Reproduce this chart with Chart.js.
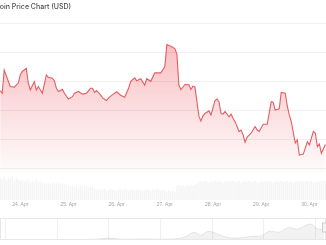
<!DOCTYPE html>
<html>
<head>
<meta charset="utf-8">
<script src="https://cdn.jsdelivr.net/npm/chart.js@4.4.1/dist/chart.umd.min.js"></script>
<style>
  html, body { margin: 0; padding: 0; background: #fff; overflow: hidden; }
  body { width: 326px; height: 245px; position: relative; }
  #title { position: absolute; top: 2px; left: 0; font: 500 7px Inter, sans-serif; line-height: 9px; color: #4d4d4d; white-space: nowrap; }
  #main { position: absolute; left: 0; top: 0; }
  #nav { position: absolute; left: 0; top: 216px; }
</style>
</head>
<body>
<canvas id="main" width="326" height="210"></canvas>
<canvas id="nav" width="326" height="26"></canvas>
<div id="title"><span id="cut">Bitc</span>oin Price Chart (USD)</div>
<script>
// hours since 24 Apr 00:00
const hours = [-10, -9, -8, -5, -3, -1, 0, 1, 3, 4, 5, 7, 8, 9, 11, 13, 14, 16, 17, 18,
  19, 21, 22, 24, 26, 27, 29, 31, 33, 35, 36, 37, 38, 40, 41, 43, 44, 46, 48, 50,
  52, 54, 55, 57, 58, 60, 62, 63, 65, 67, 70, 71, 72, 73, 75, 77, 78, 79, 80, 82,
  84, 85, 86, 87, 89, 90, 91, 92, 94, 95, 97, 98, 99, 100, 101, 102, 104, 105, 106, 107,
  109, 110, 111, 112, 113, 115, 117, 118, 119, 121, 123, 125, 126, 127, 129, 130, 132, 133, 134, 135,
  137, 138, 139, 141, 143, 144, 146, 147, 148, 149, 150, 152];
const prices = [78660, 78580, 79380, 78810, 78790, 78930, 79210, 79330, 79440, 78930,
  78690, 78980, 78690, 78810, 78580, 79210, 79130, 79100, 79010, 78750,
  78640, 78720, 78580, 78380, 78460, 78580, 78640, 78550, 78580, 78750,
  78750, 78610, 78670, 78520, 78420, 78330, 78420, 78530, 78630, 78510,
  78440, 78760, 78990, 79110, 79010, 79080, 78860, 79080, 78990, 79280,
  79280, 79390, 79490, 80260, 80200, 80120, 79940, 78870, 78700, 78880,
  78870, 78710, 78820, 78800, 77780, 77620, 77800, 77880, 77970, 77830,
  78330, 78380, 78280, 77880, 77860, 77950, 77770, 77860, 77720, 77600,
  77260, 77310, 77140, 76890, 77070, 77200, 77430, 77310, 77260, 77510,
  77510, 78290, 78270, 78000, 78040, 78610, 78580, 78140, 77830, 77600,
  76860, 76970, 76450, 76480, 76910, 76800, 77260, 77200, 76740, 76830,
  76510, 76810];
// hourly volume (B USD), first bar at hour -10
const volumeFirstHour = -10;
const volumes = [2.2, 2.1, 2.3, 2.0, 2.2, 2.1, 2.3, 1.9, 2.2, 2.0,
  1.9, 2.0, 1.8, 1.9, 2.0, 1.7, 1.9, 1.8, 2.0, 1.8, 1.9, 1.7,
  1.7, 1.6, 1.7, 1.5, 1.7, 1.6, 1.6, 1.7, 1.5, 1.6, 1.6, 1.5,
  1.4, 1.3, 1.4, 1.3, 1.4, 1.2, 1.4, 1.3, 1.3, 1.4, 1.2, 1.3, 1.3,
  1.1, 1.0, 1.1, 1.0, 1.0, 1.1, 0.9, 1.0, 1.1, 1.0, 1.0, 0.9, 1.1, 1.0, 1.0, 1.1, 1.0, 0.9,
  1.0, 1.1, 1.0, 1.0, 1.1, 0.9, 1.0, 1.0, 1.1, 1.0, 0.9, 1.0, 1.0, 1.1, 1.0, 0.9, 1.0, 0.9,
  0.8, 0.9, 0.8, 0.9, 0.8,
  1.4, 1.5, 1.4, 1.5, 1.3, 1.5, 1.4, 1.5, 1.4, 1.5, 1.6,
  1.8, 1.9, 1.8, 1.9, 1.8, 1.7, 1.9, 1.8, 1.9, 1.8, 1.9, 1.8, 1.7, 1.9, 1.8, 1.9,
  1.8, 1.9, 1.8, 1.8, 1.9, 1.7, 1.8, 1.9, 1.8, 1.9, 1.8, 1.8, 1.9, 1.8, 1.7, 1.9,
  1.8, 1.9, 1.8, 1.9, 1.8, 1.7, 1.8, 1.9, 1.8, 1.9, 1.8, 1.8, 1.9, 1.8, 1.9, 1.7,
  1.8, 1.9, 1.8, 1.9, 1.8, 1.8, 1.9, 1.8, 1.9, 1.8, 1.7, 1.9, 1.8, 1.9, 1.8, 1.9];
const dayLabels = ['24. Apr', '25. Apr', '26. Apr', '27. Apr', '28. Apr', '29. Apr', '30. Apr'];
const priceGrid = [76000, 77000, 78000, 79000, 80000, 81000];
const fillFloor = 75865;

// navigator: long-range history (k USD)
const navYears = [2013.8, 2014.5, 2015.5, 2016.5, 2017.5, 2017.95, 2018.5, 2019.5, 2020.3, 2020.9,
  2021.3, 2021.55, 2021.85, 2022.3, 2022.6, 2023.0, 2023.5, 2023.9, 2024.2, 2024.6,
  2024.95, 2025.3, 2025.6, 2025.8, 2026.05, 2026.32];
const navValues = [2.3, 2.3, 1.5, 3, 6, 15, 6, 8, 6, 19,
  58, 35, 65, 38, 19, 15, 27, 31, 65, 58,
  92, 81, 108, 119, 85, 77];
const navTicks = [2014, 2016, 2018, 2020, 2022, 2024, 2026];

const title = document.getElementById('title');
title.style.left = -document.getElementById('cut').offsetWidth + 'px';

function priceFill(context) {
  const chart = context.chart;
  if (!chart.chartArea) return null;
  const y = chart.scales.y;
  const g = chart.ctx.createLinearGradient(0, y.getPixelForValue(Math.max(...prices)), 0, y.getPixelForValue(fillFloor));
  g.addColorStop(0, 'rgba(234,57,67,0.32)');
  g.addColorStop(1, 'rgba(234,57,67,0.02)');
  return g;
}

new Chart(document.getElementById('main'), {
  type: 'line',
  data: {
    datasets: [
      {
        type: 'line',
        data: hours.map((h, i) => ({ x: h, y: prices[i] })),
        yAxisID: 'y',
        borderColor: '#e35e63',
        borderWidth: 1.1,
        pointRadius: 0,
        tension: 0,
        fill: { value: fillFloor },
        backgroundColor: priceFill,
        order: 0
      },
      {
        type: 'bar',
        data: volumes.map((v, i) => ({ x: volumeFirstHour + i, y: v })),
        yAxisID: 'v',
        backgroundColor: 'rgba(0,0,0,0.04)',
        barThickness: 1,
        order: 1
      }
    ]
  },
  options: {
    responsive: false,
    animation: false,
    devicePixelRatio: 1,
    layout: { padding: { top: 23, left: 0, right: 0, bottom: 0 } },
    plugins: { legend: { display: false }, tooltip: { enabled: false } },
    scales: {
      x: {
        type: 'linear',
        min: -10.1,
        max: 152.3,
        offset: false,
        grid: { display: false, drawTicks: false, offset: false },
        border: { display: false },
        afterBuildTicks: s => { s.ticks = dayLabels.map((_, i) => ({ value: i * 24 })); },
        ticks: {
          autoSkip: false, maxRotation: 0, padding: 2, color: '#a3a3a3',
          font: { size: 5, family: 'Liberation Sans' },
          callback: v => dayLabels[Math.round(v / 24)]
        }
      },
      y: {
        type: 'linear',
        position: 'right',
        min: 74900,
        max: 81000,
        afterBuildTicks: s => { s.ticks = priceGrid.map(v => ({ value: v })); },
        ticks: { display: false },
        grid: { color: '#f0f0f0', drawTicks: false },
        border: { display: false }
      },
      v: { type: 'linear', display: false, min: 0, max: 17.7 }
    }
  }
});

const navFrame = {
  id: 'navFrame',
  afterDatasetsDraw(chart) {
    const { ctx, chartArea: a, scales } = chart;
    ctx.save();
    ctx.strokeStyle = '#e8e8e8';
    ctx.lineWidth = 1;
    ctx.strokeRect(a.left + 0.5, a.top + 0.5, a.right - a.left - 1, a.bottom - a.top - 1);
    // range handle at the end of the selection
    const hx = Math.round(scales.x.getPixelForValue(navYears[navYears.length - 1])) + 0.5;
    ctx.fillStyle = '#f5f5f5';
    ctx.strokeStyle = '#cccccc';
    ctx.fillRect(hx - 2, a.top + 5, 4, 9);
    ctx.strokeRect(hx - 2, a.top + 5, 4, 9);
    ctx.restore();
  }
};

new Chart(document.getElementById('nav'), {
  type: 'line',
  data: {
    datasets: [{
      data: navYears.map((t, i) => ({ x: t, y: navValues[i] })),
      borderColor: 'rgba(0,0,0,0.11)',
      borderWidth: 0.8,
      backgroundColor: 'rgba(0,0,0,0.05)',
      fill: 'origin',
      pointRadius: 0,
      tension: 0.3
    }]
  },
  options: {
    responsive: false,
    animation: false,
    devicePixelRatio: 1,
    layout: { padding: { top: 2, bottom: 2, left: 0, right: 0 } },
    plugins: { legend: { display: false }, tooltip: { enabled: false } },
    scales: {
      x: {
        type: 'linear',
        min: 2013.79,
        max: 2026.4,
        afterBuildTicks: s => { s.ticks = navTicks.map(v => ({ value: v })); },
        afterFit: s => { s.height = 0; },
        grid: { color: '#f0f0f0', drawTicks: false },
        border: { display: false },
        ticks: {
          autoSkip: false, maxRotation: 0, align: 'start', padding: -8, color: '#b8b8b8',
          font: { size: 4.5, family: 'Liberation Sans' },
          callback: v => String(v)
        }
      },
      y: { display: false, min: 0, max: 164 }
    }
  },
  plugins: [navFrame]
});
</script>
</body>
</html>
